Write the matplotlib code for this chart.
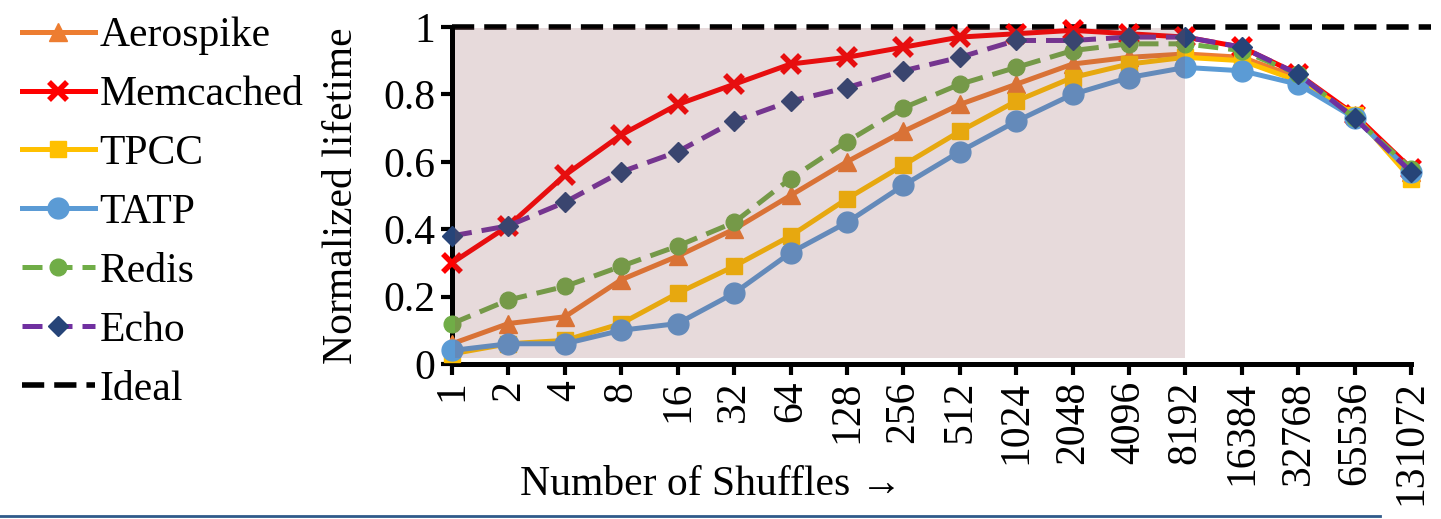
import matplotlib.pyplot as plt
from matplotlib.patches import Rectangle
from matplotlib.lines import Line2D

plt.rcParams['font.family'] = ['Liberation Serif', 'DejaVu Serif']
plt.rcParams['font.size'] = 30

# Data
shuffles = ['1', '2', '4', '8', '16', '32', '64', '128', '256', '512', '1024',
            '2048', '4096', '8192', '16384', '32768', '65536', '131072']

aerospike = [0.06, 0.12, 0.14, 0.25, 0.32, 0.40, 0.50, 0.60, 0.69, 0.77, 0.83,
             0.89, 0.91, 0.92, 0.91, 0.85, 0.74, 0.57]
memcached = [0.30, 0.41, 0.56, 0.68, 0.77, 0.83, 0.89, 0.91, 0.94, 0.97, 0.98,
             0.99, 0.98, 0.97, 0.94, 0.86, 0.74, 0.58]
tpcc = [0.03, 0.06, 0.07, 0.12, 0.21, 0.29, 0.38, 0.49, 0.59, 0.69, 0.78,
        0.85, 0.89, 0.91, 0.90, 0.84, 0.74, 0.55]
tatp = [0.04, 0.06, 0.06, 0.10, 0.12, 0.21, 0.33, 0.42, 0.53, 0.63, 0.72,
        0.80, 0.85, 0.88, 0.87, 0.83, 0.73, 0.57]
redis = [0.12, 0.19, 0.23, 0.29, 0.35, 0.42, 0.55, 0.66, 0.76, 0.83, 0.88,
         0.93, 0.95, 0.95, 0.93, 0.86, 0.73, 0.58]
echo = [0.38, 0.41, 0.48, 0.57, 0.63, 0.72, 0.78, 0.82, 0.87, 0.91, 0.96,
        0.96, 0.97, 0.97, 0.94, 0.86, 0.73, 0.57]
ideal = 1.0

x = list(range(len(shuffles)))

fig = plt.figure(figsize=(14.41, 5.19), dpi=100)
ax = fig.add_axes([0.3137, 0.2987, 0.6655, 0.6493])

lw = 3.6
dash = (0, (4, 2))
ax.plot(x, aerospike, color='#ed7d31', lw=lw, marker='^', ms=13, label='Aerospike', clip_on=False, zorder=3)
ax.plot(x, memcached, color='#ff0000', lw=lw, marker='x', ms=13, mew=4, label='Memcached', clip_on=False, zorder=3)
ax.plot(x, tpcc, color='#ffc000', lw=lw, marker='s', ms=12, label='TPCC', clip_on=False, zorder=3)
ax.plot(x, tatp, color='#5b9bd5', lw=lw, marker='o', ms=15, label='TATP', clip_on=False, zorder=3)
ax.plot(x, redis, color='#70ad47', lw=lw, ls=dash, marker='o', ms=12, label='Redis', clip_on=False, zorder=3)
ax.plot(x, echo, color='#7030a0', lw=lw, ls=dash, marker='D', ms=10, mfc='#264478', mec='#264478',
        label='Echo', clip_on=False, zorder=4)
ax.plot([0, 17.35], [ideal, ideal], color='black', lw=4, ls=(0, (4, 1.8)), label='Ideal',
        clip_on=False, zorder=2)

# shaded region up to 8192
ax.add_patch(Rectangle((0.05, 0.018), 12.95, 0.98, facecolor='#8b4a4f', alpha=0.2,
                       edgecolor='none', zorder=5))

ax.set_xlim(0, 17)
ax.set_ylim(0, 1)
ax.set_xticks(x)
ax.set_xticklabels(shuffles, rotation=90)
ax.set_yticks([0, 0.2, 0.4, 0.6, 0.8, 1])
ax.set_yticklabels(['0', '0.2', '0.4', '0.6', '0.8', '1'])
ax.spines['top'].set_visible(False)
ax.spines['right'].set_visible(False)
for s in ['left', 'bottom']:
    ax.spines[s].set_linewidth(3.6)
ax.tick_params(axis='both', width=3, length=8, labelsize=30, pad=4)
ax.set_ylabel('Normalized lifetime', fontsize=30, labelpad=16)
ax.set_xlabel('Number of Shuffles \u2192', fontsize=30)
ax.xaxis.set_label_coords(0.27, -0.30)

ax.legend(loc='upper left', bbox_to_anchor=(-0.466, 1.08), frameon=False,
          fontsize=30, handlelength=1.75, handletextpad=0.12, labelspacing=0.49,
          borderaxespad=0)

fig.add_artist(Line2D([0, 0.958], [0.005, 0.005], color='#2f5a8a', lw=2))

fig.savefig('out.png', dpi=100)
